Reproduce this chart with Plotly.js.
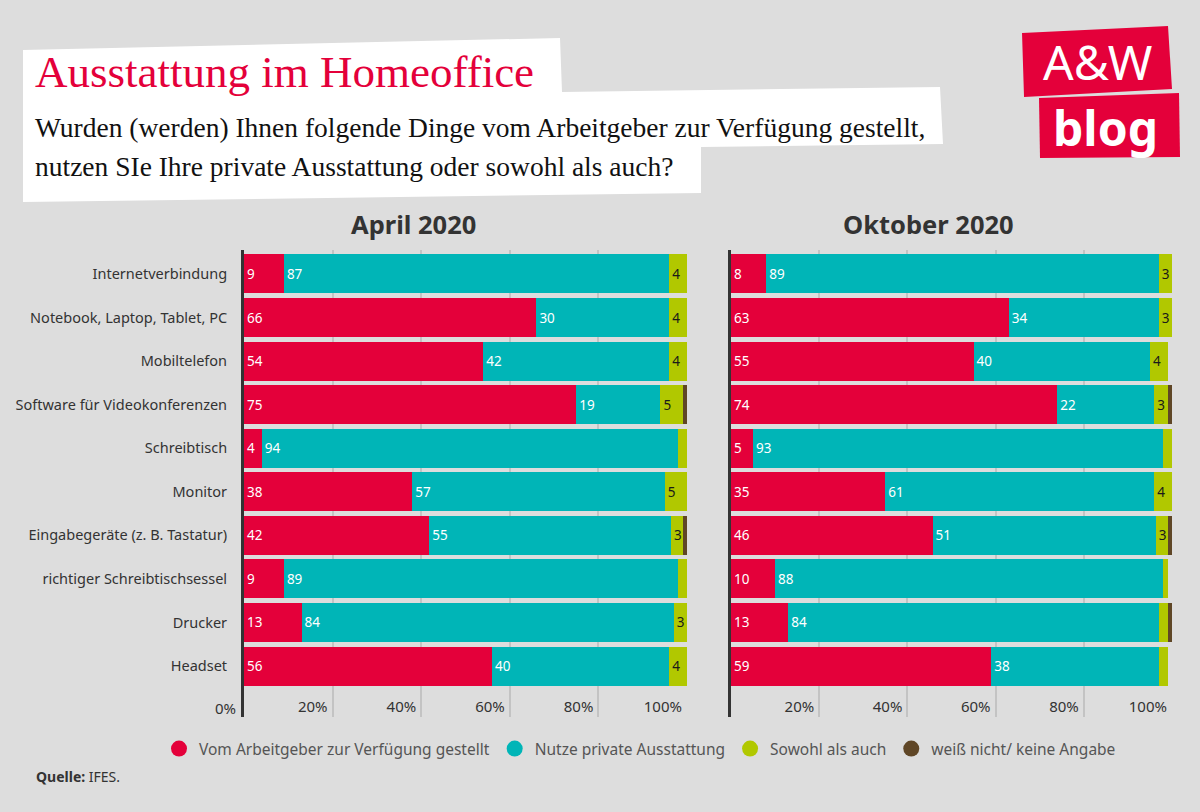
<!DOCTYPE html>
<html><head><meta charset="utf-8">
<script src="https://cdn.plot.ly/plotly-3.0.1.min.js"></script>
<style>html,body{margin:0;padding:0;background:#dddddd}#chart{width:1200px;height:812px}</style>
</head><body><div id="chart"></div>
<script>
const categories = ["Internetverbindung","Notebook, Laptop, Tablet, PC","Mobiltelefon","Software für Videokonferenzen","Schreibtisch","Monitor","Eingabegeräte (z. B. Tastatur)","richtiger Schreibtischsessel","Drucker","Headset"];
const seriesNames = ["Vom Arbeitgeber zur Verfügung gestellt","Nutze private Ausstattung","Sowohl als auch","weiß nicht/ keine Angabe"];
const aprilArbeitgeber = [9,66,54,75,4,38,41.8,9,13,56];
const aprilPrivat = [87,30,42,19,94,57,54.6,89,84,40];
const aprilSowohl = [4,4,4,5,2,5,2.8,2,3,4];
const aprilWeissNicht = [0,0,0,1,0,0,0.8,0,0,0];
const oktoberArbeitgeber = [8,63,55,74,5,35,45.7,10,13,59];
const oktoberPrivat = [89,34,40,22,93,61,50.6,88,84,38];
const oktoberSowohl = [3,3,4,3,2,4,2.8,1,2,2];
const oktoberWeissNicht = [0,0,0,1,0,0,0.9,0,1,0];
const panelTitles = ["April 2020","Oktober 2020"];
const tickValues = [0,20,40,60,80,100];
const tickLabels = ["0%","20%","40%","60%","80%","100%"];

const colors = ["#e4003a","#00b5b7","#b1c800","#5f4626"];
const textColors = ["#ffffff","#ffffff","#1a1a1a","#ffffff"];
const W = 1200, H = 812;
const px = x => x / W;
const py = y => 1 - y / H;
const FONT = "Noto Sans";

const panels = [
  {xa: "x", ya: "y", series: [aprilArbeitgeber, aprilPrivat, aprilSowohl, aprilWeissNicht]},
  {xa: "x2", ya: "y2", series: [oktoberArbeitgeber, oktoberPrivat, oktoberSowohl, oktoberWeissNicht]}
];

const traces = [];
panels.forEach(p => {
  p.series.forEach((vals, i) => {
    traces.push({
      type: "bar", orientation: "h",
      x: vals, y: categories,
      xaxis: p.xa, yaxis: p.ya,
      name: seriesNames[i], showlegend: false,
      marker: {color: colors[i], line: {width: 0}},
      text: vals.map(v => v >= 2.5 ? String(Math.round(v)) : ""),
      textposition: "inside", insidetextanchor: "start",
      constraintext: "none", textangle: 0,
      textfont: {family: FONT, size: 13.5, color: textColors[i]},
      hoverinfo: "x+y+name"
    });
  });
});
// legend entries
seriesNames.forEach((n, i) => {
  traces.push({type: "scatter", mode: "markers", x: [null], y: [null], name: n,
    marker: {color: colors[i], size: 16, symbol: "circle"}, showlegend: true, hoverinfo: "skip"});
});

const xBase = {
  range: [0, 100], tickvals: tickValues, ticktext: tickLabels,
  ticklabelposition: "inside left", ticks: "", showgrid: true,
  ticklabelshift: -5, ticklabelstandoff: -4,
  gridcolor: "#c3c3c3", gridwidth: 2, zeroline: false, showline: false,
  tickfont: {family: FONT, size: 15, color: "#333333"}, fixedrange: true
};
const yBase = {
  type: "category", categoryorder: "array", categoryarray: categories,
  range: [10.17, -0.55], showgrid: false, zeroline: false,
  showline: true, linecolor: "#333333", linewidth: 3, ticks: "",
  tickfont: {family: FONT, size: 14.5, color: "#333333"}, fixedrange: true
};

const layout = {
  width: W, height: H,
  margin: {l: 0, r: 0, t: 0, b: 0},
  paper_bgcolor: "#dddddd", plot_bgcolor: "#dddddd",
  barmode: "stack", bargap: 0.105,
  xaxis: Object.assign({}, xBase, {domain: [px(244), px(687)], anchor: "y"}),
  xaxis2: Object.assign({}, xBase, {domain: [px(731), px(1172)], anchor: "y2"}),
  yaxis: Object.assign({}, yBase, {domain: [py(717), py(250)], anchor: "x", ticklabelstandoff: 11}),
  yaxis2: Object.assign({}, yBase, {domain: [py(717), py(250)], anchor: "x2", showticklabels: false}),
  showlegend: true,
  legend: {orientation: "h", traceorder: "normal", x: px(640), xanchor: "center", y: py(749), yanchor: "middle",
    font: {family: FONT, size: 15.5, color: "#555555"}, bgcolor: "rgba(0,0,0,0)", itemclick: false},
  shapes: [
    {type: "path", xref: "paper", yref: "paper", layer: "below",
     path: `M${px(23)},${py(50)} L${px(560)},${py(38)} L${px(562)},${py(92)} L${px(940)},${py(87)} L${px(943)},${py(144)} L${px(701)},${py(147)} L${px(701)},${py(193)} L${px(23)},${py(202)} Z`,
     fillcolor: "#ffffff", line: {width: 0}},
    {type: "path", xref: "paper", yref: "paper",
     path: `M${px(1022)},${py(33)} L${px(1168)},${py(26)} L${px(1172)},${py(89)} L${px(1024)},${py(97)} Z`,
     fillcolor: "#e4003a", line: {width: 0}},
    {type: "path", xref: "paper", yref: "paper",
     path: `M${px(1039)},${py(98)} L${px(1179)},${py(93)} L${px(1180)},${py(157)} L${px(1040)},${py(158)} Z`,
     fillcolor: "#e4003a", line: {width: 0}}
  ],
  annotations: [
    {text: "Ausstattung im Homeoffice", xref: "paper", yref: "paper", x: px(33), y: py(72),
     xanchor: "left", yanchor: "middle", showarrow: false,
     font: {family: "Liberation Serif", size: 45, color: "#e4003a"}},
    {text: "Wurden (werden) Ihnen folgende Dinge vom Arbeitgeber zur Verfügung gestellt,", xref: "paper", yref: "paper", x: px(33), y: py(127),
     xanchor: "left", yanchor: "middle", showarrow: false,
     font: {family: "Liberation Serif", size: 27.5, color: "#111111"}},
    {text: "nutzen SIe Ihre private Ausstattung oder sowohl als auch?", xref: "paper", yref: "paper", x: px(33), y: py(166),
     xanchor: "left", yanchor: "middle", showarrow: false,
     font: {family: "Liberation Serif", size: 27.5, color: "#111111"}},
    {text: "A&amp;W", xref: "paper", yref: "paper", x: px(1098), y: py(62),
     xanchor: "center", yanchor: "middle", showarrow: false,
     font: {family: FONT, size: 48, color: "#ffffff"}},
    {text: "<b>blog</b>", xref: "paper", yref: "paper", x: px(1105), y: py(127),
     xanchor: "center", yanchor: "middle", showarrow: false,
     font: {family: FONT, size: 48, color: "#ffffff"}},
    {text: "<b>" + panelTitles[0] + "</b>", xref: "paper", yref: "paper", x: px(414), y: py(224),
     xanchor: "center", yanchor: "middle", showarrow: false,
     font: {family: FONT, size: 25.5, color: "#333333"}},
    {text: "<b>" + panelTitles[1] + "</b>", xref: "paper", yref: "paper", x: px(928), y: py(224),
     xanchor: "center", yanchor: "middle", showarrow: false,
     font: {family: FONT, size: 25.5, color: "#333333"}},
    {text: tickLabels[0], xref: "x", yref: "paper", x: tickValues[0], y: py(708),
     xanchor: "right", yanchor: "middle", xshift: -6, showarrow: false,
     font: {family: FONT, size: 15, color: "#333333"}},
    {text: "<b>Quelle:</b> IFES.", xref: "paper", yref: "paper", x: px(34), y: py(776),
     xanchor: "left", yanchor: "middle", showarrow: false,
     font: {family: FONT, size: 14, color: "#333333"}}
  ]
};

Plotly.newPlot("chart", traces, layout, {displayModeBar: false, responsive: false});
</script>
</body></html>
